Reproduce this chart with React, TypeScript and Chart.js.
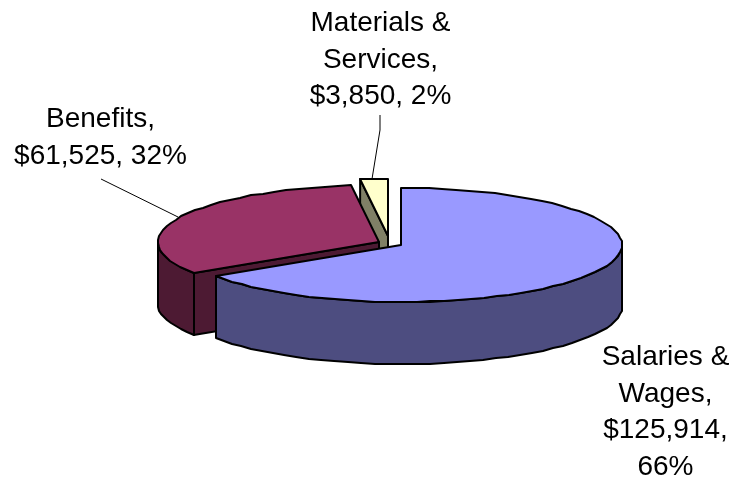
import { useEffect, useRef } from "react";
import { Chart, PieController, ArcElement } from "chart.js";

Chart.register(PieController, ArcElement);

const categories = ["Salaries & Wages", "Benefits", "Materials & Services"];
const amounts = [125914, 61525, 3850];
const faceColors = ["#9999FF", "#993366", "#FFFFCC"];
const wallColors = ["#4D4D80", "#4D1A33", "#808066"];

// Lines of each callout, centred on the given x, first baseline at y.
const calloutLines = [
  ["Salaries &", "Wages,", "$125,914,", "66%"],
  ["Benefits,", "$61,525, 32%"],
  ["Materials &", "Services,", "$3,850, 2%"],
];
const calloutAnchors = [
  { x: 665.5, y: 365 },
  { x: 100.5, y: 127 },
  { x: 380.5, y: 31 },
];
const leaderLines = [
  [],
  [[101, 179], [178, 217]],
  [[380, 115], [380, 130], [372, 179]],
];

// Screen displacement of each exploded wedge.
const explode = [
  { x: 0, y: 0 },
  { x: -22, y: -3 },
  { x: -13, y: -9 },
];

const TILT = 57 / 221;
const DEPTH = 62;
const LINE_HEIGHT = 36.7;
const ARC_STEP = Math.PI / 50;

const pie3d = {
  id: "pie3d",
  beforeDatasetDraw(chart: any) {
    const { ctx } = chart;
    const arcs = chart.getDatasetMeta(0).data;
    ctx.save();
    ctx.lineWidth = 2;
    ctx.strokeStyle = "#000";
    ctx.lineJoin = "round";

    // Painted back to front: the smallest wedge sits behind the other two.
    for (let i = arcs.length - 1; i >= 0; i--) {
      const { x, y, startAngle: a0, endAngle: a1, outerRadius: r } = arcs[i];
      const cx = x + explode[i].x;
      const cy = y + explode[i].y;
      const px = (a: number) => cx + r * Math.cos(a);
      const py = (a: number) => cy + r * TILT * Math.sin(a);

      // Rim traced as short chords snapped to whole pixels.
      const rim = (from: number, to: number, dy: number) => {
        const n = Math.max(1, Math.ceil(Math.abs(to - from) / ARC_STEP));
        for (let k = 0; k <= n; k++) {
          const a = from + ((to - from) * k) / n;
          ctx.lineTo(Math.round(px(a)), Math.round(py(a) + dy));
        }
      };

      const wall = (trace: () => void) => {
        ctx.beginPath();
        trace();
        ctx.closePath();
        ctx.fillStyle = wallColors[i];
        ctx.fill();
        ctx.stroke();
      };

      // Flat side along the leading radial edge.
      if (Math.cos(a0) < 0) {
        wall(() => {
          ctx.moveTo(cx, cy);
          ctx.lineTo(px(a0), py(a0));
          ctx.lineTo(px(a0), py(a0) + DEPTH);
          ctx.lineTo(cx, cy + DEPTH);
        });
      }

      // Curved rim on the front half of the ellipse.
      const from = Math.max(a0, 0);
      const to = Math.min(a1, Math.PI);
      if (to > from) {
        wall(() => {
          rim(from, to, 0);
          rim(to, from, DEPTH);
        });
      }

      // Top face.
      ctx.beginPath();
      ctx.moveTo(cx, cy);
      rim(a0, a1, 0);
      ctx.closePath();
      ctx.fillStyle = faceColors[i];
      ctx.fill();
      ctx.stroke();
    }
    ctx.restore();
    return false;
  },
  afterDraw(chart: any) {
    const { ctx } = chart;
    ctx.save();
    ctx.strokeStyle = "#000";
    ctx.lineWidth = 1;
    leaderLines.forEach((pts) => {
      if (!pts.length) return;
      ctx.beginPath();
      pts.forEach(([lx, ly], k) => (k ? ctx.lineTo(lx, ly) : ctx.moveTo(lx, ly)));
      ctx.stroke();
    });
    ctx.fillStyle = "#000";
    ctx.font = '28px "Liberation Sans", Arial, sans-serif';
    ctx.textAlign = "center";
    ctx.textBaseline = "alphabetic";
    calloutLines.forEach((lines, i) => {
      lines.forEach((text, k) => {
        ctx.fillText(text, calloutAnchors[i].x, calloutAnchors[i].y + k * LINE_HEIGHT);
      });
    });
    ctx.restore();
  },
};

export default function App() {
  const ref = useRef<HTMLCanvasElement>(null);
  useEffect(() => {
    const chart = new Chart(ref.current!, {
      type: "pie",
      data: {
        labels: categories,
        datasets: [{ data: amounts, backgroundColor: faceColors, borderWidth: 0 }],
      },
      options: {
        animation: false,
        responsive: false,
        radius: 221,
        layout: { padding: { left: 69, top: 11 } },
        plugins: { legend: { display: false }, tooltip: { enabled: false } },
      } as any,
      plugins: [pie3d],
    });
    return () => chart.destroy();
  }, []);
  return (
    <div style={{ position: "fixed", left: 0, top: 0, width: 733, height: 479, background: "#fff" }}>
      <canvas ref={ref} width={733} height={479} style={{ display: "block" }} />
    </div>
  );
}
